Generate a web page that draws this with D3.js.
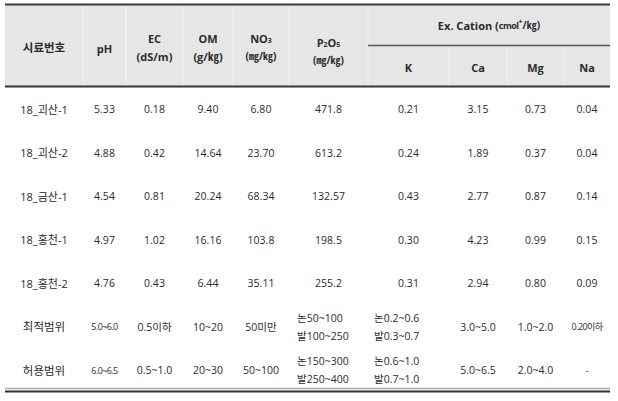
<!DOCTYPE html>
<html><head><meta charset="utf-8">
<script src="https://cdn.jsdelivr.net/npm/d3@7"></script>
<style>
body{margin:0;background:#fff;}
svg{display:block;font-family:"Open Sans","Noto Sans CJK KR",sans-serif;}
</style></head>
<body>
<svg id="c" width="618" height="401"></svg>
<script>
// ---- data ----
const samples = ["18_괴산-1","18_괴산-2","18_금산-1","18_홍천-1","18_홍천-2"];
const pH   = ["5.33","4.88","4.54","4.97","4.76"];
const EC   = ["0.18","0.42","0.81","1.02","0.43"];
const OM   = ["9.40","14.64","20.24","16.16","6.44"];
const NO3  = ["6.80","23.70","68.34","103.8","35.11"];
const P2O5 = ["471.8","613.2","132.57","198.5","255.2"];
const K    = ["0.21","0.24","0.43","0.30","0.31"];
const Ca   = ["3.15","1.89","2.77","4.23","2.94"];
const Mg   = ["0.73","0.37","0.87","0.99","0.80"];
const Na   = ["0.04","0.04","0.14","0.15","0.09"];
const rangeLabels = ["최적범위","허용범위"];
const optimal = ["5.0~6.0","0.5이하","10~20","50미만",["논50~100","발100~250"],["논0.2~0.6","발0.3~0.7"],"3.0~5.0","1.0~2.0","0.20이하"];
const allowed = ["6.0~6.5","0.5~1.0","20~30","50~100",["논150~300","발250~400"],["논0.6~1.0","발0.7~1.0"],"5.0~6.5","2.0~4.0","-"];
const columns = ["시료번호","pH","EC","OM","NO3","P2O5","K","Ca","Mg","Na"];

// ---- layout ----
const svg = d3.select("#c");
const edges = [5,83,126,183,233,289,368,449,507,564,610];
const colL = d3.scaleOrdinal().domain(columns).range(edges.slice(0,10));
const colR = d3.scaleOrdinal().domain(columns).range(edges.slice(1));
const cx = c => (colL(c)+colR(c))/2;
const allRows = samples.concat(rangeLabels);
const y = d3.scalePoint().domain(allRows).range([109,370]);

const txt = "#2b2b2b";
svg.append("rect").attr("x",5).attr("y",5).attr("width",605).attr("height",81).attr("fill","#e6e6e6");
columns.slice(1).forEach(c=>{
  const top = (["Ca","Mg","Na"].includes(c)) ? 46 : 5;
  svg.append("line").attr("x1",colL(c)).attr("x2",colL(c)).attr("y1",top).attr("y2",86)
    .attr("stroke","#f2f2f2").attr("stroke-width",1);
});
svg.append("line").attr("x1",5).attr("x2",610).attr("y1",4.5).attr("y2",4.5).attr("stroke","#3a3a3a").attr("stroke-width",2);
svg.append("line").attr("x1",368).attr("x2",610).attr("y1",45.5).attr("y2",45.5).attr("stroke","#555").attr("stroke-width",1.5);
svg.append("line").attr("x1",5).attr("x2",610).attr("y1",86.5).attr("y2",86.5).attr("stroke","#333").attr("stroke-width",2);
svg.append("line").attr("x1",5).attr("x2",610).attr("y1",388.5).attr("y2",388.5).attr("stroke","#aaa").attr("stroke-width",1.5);
svg.append("line").attr("x1",5).attr("x2",610).attr("y1",391.5).attr("y2",391.5).attr("stroke","#333").attr("stroke-width",2);

const hd = svg.append("g").attr("fill",txt).attr("font-weight","bold").attr("font-size",11).attr("text-anchor","middle");
function ht(xp,yp,s,size){return hd.append("text").attr("x",xp).attr("y",yp).attr("dominant-baseline","central").attr("font-size",size||11).text(s);}
ht(cx("시료번호"),47,"시료번호",11.5);
ht(cx("pH"),48,"pH");
ht(cx("EC"),38,"EC"); ht(cx("EC"),56,"(dS/m)");
ht(cx("OM"),38,"OM"); ht(cx("OM"),56,"(g/㎏)");
const no = ht(cx("NO3"),38,"NO"); no.append("tspan").attr("font-size",7).attr("dy",2).text("3");
ht(cx("NO3"),56,"(㎎/㎏)",10);
const p = hd.append("text").attr("x",cx("P2O5")).attr("y",42).attr("dominant-baseline","central");
p.append("tspan").text("P"); p.append("tspan").attr("font-size",7).attr("dy",2).text("2");
p.append("tspan").attr("dy",-2).text("O"); p.append("tspan").attr("font-size",7).attr("dy",2).text("5");
ht(cx("P2O5"),60,"(㎎/㎏)",10);
const ex = ht((368+610)/2,25,"Ex. Cation  (",11);
ex.append("tspan").attr("font-size",9).attr("letter-spacing",-0.5).text("cmol");
ex.append("tspan").attr("font-size",7).attr("dy",-4).text("+");
ex.append("tspan").attr("dy",4).attr("font-size",10).text("/㎏)");
["K","Ca","Mg","Na"].forEach(c=>ht(cx(c),67,c));

const body = svg.append("g").attr("fill",txt).attr("font-size",10.5).attr("text-anchor","middle");
const series = [pH,EC,OM,NO3,P2O5,K,Ca,Mg,Na];
samples.forEach((s,i)=>{
  body.append("text").attr("x",cx("시료번호")).attr("y",y(s)).attr("dominant-baseline","central").attr("font-size",11).text(s);
  series.forEach((arr,j)=>{
    body.append("text").attr("x",cx(columns[j+1])).attr("y",y(s)).attr("dominant-baseline","central").text(arr[i]);
  });
});
[optimal,allowed].forEach((arr,r)=>{
  const lab = rangeLabels[r];
  const yy = y(lab);
  body.append("text").attr("x",cx("시료번호")).attr("y",yy).attr("dominant-baseline","central").attr("font-size",11.5).text(lab);
  arr.forEach((v,j)=>{
    const c = columns[j+1];
    if(Array.isArray(v)){
      v.forEach((line,k)=>{
        body.append("text").attr("x",colL(c)+(c==="P2O5"?8:6)).attr("y",yy-9+k*18).attr("text-anchor","start")
          .attr("dominant-baseline","central").text(line);
      });
    } else {
      const small = (c==="pH"||c==="Na");
      const t = body.append("text").attr("x",cx(c)).attr("y",yy).attr("dominant-baseline","central").text(v);
      if(small) t.attr("font-size",9).attr("letter-spacing",-0.6);
    }
  });
});
</script>
</body></html>
